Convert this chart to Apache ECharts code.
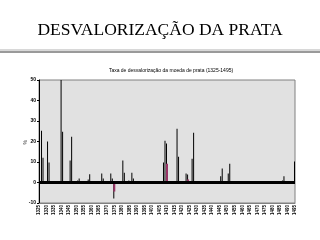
<!DOCTYPE html>
<html>
  <head>
    <meta charset="UTF-8" />
    <title>Desvalorização da prata</title>
    <script type="text/javascript" src="https://cdn.jsdelivr.net/npm/echarts@6/dist/echarts.min.js"></script>
    <style>
      html, body { margin: 0; padding: 0; background: #ffffff; }
    </style>
  </head>

  <body>
    <div id="chart" style="width: 320px; height: 240px"></div>
    <script>
      // anos do eixo (1325 - 1495)
      var firstYear = 1325;
      var lastYear = 1495;
      // barras pretas: ano e taxa (%)
      var barYears = [1327, 1328, 1331, 1332, 1340, 1341, 1346, 1347, 1351, 1352,
        1358, 1359, 1367, 1368, 1373, 1374, 1375, 1381, 1382, 1385, 1387, 1388,
        1408, 1409, 1410, 1417, 1418, 1423, 1424, 1427, 1428, 1446, 1447, 1451, 1452,
        1487, 1488, 1495];
      var barValues = [25.2, 12.1, 20, 9.7, 50, 24.8, 10.7, 22.3, 1, 2,
        1.5, 4, 4.4, 2, 4.4, 2, -7.8, 10.7, 4.8, 1, 4.8, 2,
        9.7, 20.4, 19, 26.2, 12.6, 4.4, 3.9, 11.6, 24.3, 3, 6.8, 4.4, 9.2,
        1, 3, 10.2];
      // barras magenta
      var accentYears = [1375, 1410, 1424];
      var accentValues = [-4.4, 9.2, 1.5];

      var years = [];
      for (var y = firstYear; y <= lastYear; y++) years.push(String(y));

      function fill(ys, vs) {
        var arr = years.map(function () { return null; });
        for (var i = 0; i < ys.length; i++) arr[ys[i] - firstYear] = vs[i];
        return arr;
      }

      var chart = echarts.init(document.getElementById("chart"));
      var option = {
        backgroundColor: "#ffffff",
        animation: false,
        title: [
          {
            text: "DESVALORIZAÇÃO DA PRATA",
            left: "center",
            top: 16,
            textStyle: {
              fontFamily: "Liberation Serif",
              fontWeight: "normal",
              fontSize: 17.5,
              color: "#000000",
            },
          },
          {
            text: "Taxa de desvalorização da moeda de prata (1325-1495)",
            left: 166,
            textAlign: "center",
            top: 63,
            textStyle: {
              fontFamily: "Liberation Sans",
              fontWeight: "normal",
              fontSize: 5,
              color: "#000000",
            },
          },
        ],
        graphic: [
          { type: "rect", shape: { x: 0, y: 49, width: 320, height: 2 }, style: { fill: "#d8d8d8" } },
          { type: "rect", shape: { x: 0, y: 51, width: 320, height: 2 }, style: { fill: "#9a9a9a" } },
          {
            type: "text",
            left: 23,
            top: 140,
            rotation: Math.PI / 2,
            style: { text: "%", fontSize: 5, fill: "#000000", fontFamily: "Liberation Sans" },
          },
        ],
        grid: {
          left: 39,
          right: 25,
          top: 80,
          bottom: 37,
          show: true,
          backgroundColor: "#e1e1e1",
          borderColor: "#808080",
          borderWidth: 1,
        },
        xAxis: {
          type: "category",
          data: years,
          boundaryGap: false,
          axisLine: { onZero: false, lineStyle: { color: "#808080", width: 1 } },
          axisTick: { show: false },
          axisLabel: {
            interval: 4,
            rotate: 90,
            fontSize: 4.5,
            fontWeight: "bold",
            color: "#000000",
            margin: 2,
          },
          splitLine: { show: false },
        },
        yAxis: {
          type: "value",
          min: -10,
          max: 50,
          interval: 10,
          axisLine: { show: true, lineStyle: { color: "#000000", width: 1 } },
          axisTick: { show: true, length: 2, lineStyle: { color: "#000000" } },
          axisLabel: { fontSize: 5, fontWeight: "bold", color: "#000000", margin: 3 },
          splitLine: { show: false },
        },
        series: [
          {
            type: "bar",
            data: fill(barYears, barValues),
            barWidth: 1,
            itemStyle: { color: "#000000" },
            markLine: {
              silent: true,
              symbol: "none",
              label: { show: false },
              lineStyle: { color: "#000000", width: 3, type: "solid" },
              data: [{ yAxis: 0 }],
            },
          },
          {
            type: "bar",
            data: fill(accentYears, accentValues),
            barWidth: 2,
            barGap: "-100%",
            itemStyle: { color: "#993366" },
          },
        ],
      };
      chart.setOption(option);
    </script>
  </body>
</html>
